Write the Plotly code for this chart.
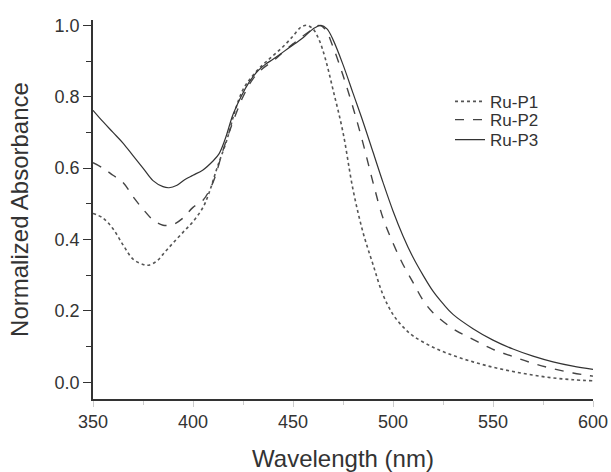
import plotly.graph_objects as go

# wavelength (nm) and normalized absorbance
wl_p1 = [350, 355, 360, 365, 370, 375, 378, 382, 386, 390, 395, 400, 405, 408, 412, 417, 421, 425,
         430, 435, 440, 445, 450, 454, 457, 460, 463, 466, 470, 475, 480, 485, 490, 495, 500, 505,
         510, 520, 530, 540, 550, 560, 570, 580, 590, 600]
ru_p1 = [0.473, 0.46, 0.43, 0.385, 0.345, 0.33, 0.328, 0.34, 0.365, 0.39, 0.42, 0.45, 0.49, 0.53,
         0.60, 0.68, 0.76, 0.82, 0.86, 0.89, 0.915, 0.94, 0.97, 0.995, 1.0, 0.99, 0.96, 0.91, 0.82,
         0.70, 0.54, 0.42, 0.33, 0.245, 0.19, 0.155, 0.13, 0.098, 0.075, 0.057, 0.042, 0.03, 0.02,
         0.012, 0.007, 0.004]

wl_p2 = [350, 355, 360, 365, 370, 375, 380, 385, 390, 395, 400, 405, 410, 415, 420, 425, 430, 435,
         440, 445, 450, 455, 460, 463, 466, 470, 475, 480, 485, 490, 495, 500, 505, 510, 515, 520,
         530, 540, 550, 560, 570, 580, 590, 600]
ru_p2 = [0.615, 0.60, 0.58, 0.56, 0.52, 0.485, 0.455, 0.44, 0.442, 0.46, 0.49, 0.51, 0.56, 0.65,
         0.73, 0.80, 0.85, 0.88, 0.90, 0.925, 0.948, 0.97, 0.99, 1.0, 0.99, 0.94, 0.86, 0.77, 0.67,
         0.56, 0.46, 0.39, 0.33, 0.28, 0.23, 0.195, 0.15, 0.12, 0.092, 0.072, 0.053, 0.038, 0.026,
         0.017]

wl_p3 = [350, 355, 360, 365, 370, 375, 380, 385, 388, 392, 396, 400, 405, 410, 413, 416, 420, 424,
         428, 432, 436, 440, 445, 450, 455, 460, 464, 467, 470, 475, 480, 485, 490, 495, 500, 505,
         510, 515, 520, 525, 530, 540, 550, 560, 570, 580, 590, 600]
ru_p3 = [0.762, 0.73, 0.70, 0.67, 0.635, 0.60, 0.565, 0.548, 0.545, 0.552, 0.568, 0.58, 0.595,
         0.62, 0.64, 0.68, 0.75, 0.80, 0.84, 0.87, 0.89, 0.905, 0.925, 0.945, 0.965, 0.99, 1.0,
         0.99, 0.96, 0.89, 0.81, 0.73, 0.645, 0.56, 0.48, 0.41, 0.35, 0.30, 0.255, 0.22, 0.19, 0.15,
         0.118, 0.093, 0.073, 0.057, 0.045, 0.036]

ink = "#333333"
font = "Liberation Sans, Arial, sans-serif"

fig = go.Figure()
fig.add_trace(go.Scatter(x=wl_p1, y=ru_p1, name="Ru-P1", mode="lines", line_shape="spline",
                         legend="legend", showlegend=True,
                         line=dict(color="#555555", width=1.6, dash="dot")))
fig.add_trace(go.Scatter(x=wl_p2, y=ru_p2, name="Ru-P2", mode="lines", line_shape="spline",
                         legend="legend2", showlegend=True,
                         line=dict(color="#444444", width=1.4, dash="dash")))
fig.add_trace(go.Scatter(x=wl_p3, y=ru_p3, name="Ru-P3", mode="lines", line_shape="spline",
                         legend="legend3", showlegend=True,
                         line=dict(color=ink, width=1.2)))

# one legend per entry so the rows sit as tight as in the original
leg = dict(x=0.714, xanchor="left", yanchor="middle", bgcolor="rgba(0,0,0,0)",
           font=dict(size=17))

fig.update_layout(
    width=611, height=472,
    margin=dict(l=93, r=18, t=20, b=73),
    paper_bgcolor="white", plot_bgcolor="white",
    font=dict(family=font, size=18, color=ink),
    showlegend=True,
    legend=dict(leg, y=0.784),
    legend2=dict(leg, y=0.736),
    legend3=dict(leg, y=0.683),
)
fig.update_xaxes(
    range=[350, 600], tickvals=[350, 400, 450, 500, 550, 600], automargin=False,
    showline=True, linecolor=ink, linewidth=1.5, showgrid=False, zeroline=False,
    ticks="outside", ticklen=6, tickcolor="#cccccc",
    minor=dict(ticks="outside", ticklen=4, tickcolor="#cccccc", dtick=25, showgrid=False),
    title=dict(text="Wavelength (nm)", font=dict(size=24), standoff=26),
)
fig.update_yaxes(
    range=[-0.047, 1.015], tickvals=[0, 0.2, 0.4, 0.6, 0.8, 1.0], tickformat=".1f",
    automargin=False,
    showline=True, linecolor=ink, linewidth=1.5, showgrid=False, zeroline=False,
    ticks="outside", ticklen=8, tickcolor=ink,
    minor=dict(ticks="outside", ticklen=5, tickcolor=ink, dtick=0.1, showgrid=False),
    title=dict(text="Normalized Absorbance", font=dict(size=24), standoff=19),
)

# drop the default 8px body margin so the 611x472 figure fills the window exactly
fig.write_html("out.html", config={"displayModeBar": False},
               post_script="document.body.style.margin='0';")
